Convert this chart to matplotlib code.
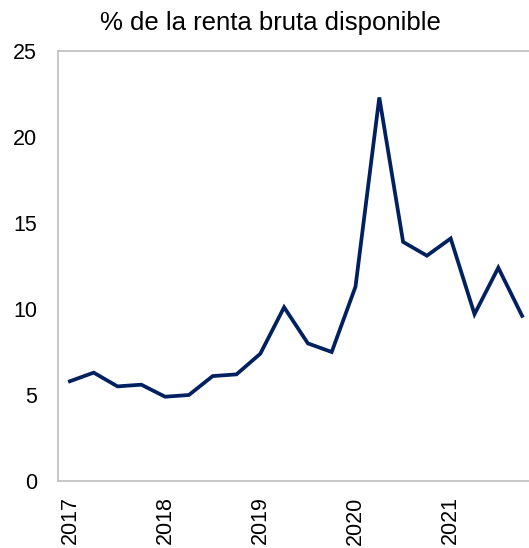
import matplotlib
matplotlib.use("Agg")
import matplotlib.pyplot as plt

quarters = ["2017Q1", "2017Q2", "2017Q3", "2017Q4",
            "2018Q1", "2018Q2", "2018Q3", "2018Q4",
            "2019Q1", "2019Q2", "2019Q3", "2019Q4",
            "2020Q1", "2020Q2", "2020Q3", "2020Q4",
            "2021Q1", "2021Q2", "2021Q3", "2021Q4"]
values = [5.8, 6.3, 5.5, 5.6,
          4.9, 5.0, 6.1, 6.2,
          7.4, 10.1, 8.0, 7.5,
          11.3, 22.3, 13.9, 13.1,
          14.1, 9.7, 12.4, 9.6]
year_labels = ["2017", "2018", "2019", "2020", "2021"]
title = "% de la renta bruta disponible"

plt.rcParams['font.family'] = ['Liberation Sans', 'DejaVu Sans']

fig = plt.figure(figsize=(5.29, 5.48), dpi=100)
W, H = 529, 548
left, right, top, bottom = 58, 534, 51, 481
ax = fig.add_axes([left / W, 1 - bottom / H, (right - left) / W, (bottom - top) / H])

x = list(range(len(quarters)))
ax.plot(x, values, color="#002060", linewidth=2.7, solid_joinstyle="miter")

ax.set_xlim(-0.5, len(quarters) - 0.5)
ax.set_ylim(0, 25)
ax.set_yticks([0, 5, 10, 15, 20, 25])
ax.set_xticks([i for i, q in enumerate(quarters) if q.endswith("Q1")])
ax.set_xticklabels(year_labels, rotation=90, va="top", ha="center")
ax.tick_params(axis="both", length=0, labelsize=15.5, colors="#000000")
ax.tick_params(axis="y", pad=15)
ax.tick_params(axis="x", pad=11)
for s in ax.spines.values():
    s.set_color("#bfbfbf")
    s.set_linewidth(1.2)

fig.text(270 / W, 1 - 23 / H, title, ha="center", va="center", fontsize=18.5)

fig.savefig("out.png", dpi=100)
